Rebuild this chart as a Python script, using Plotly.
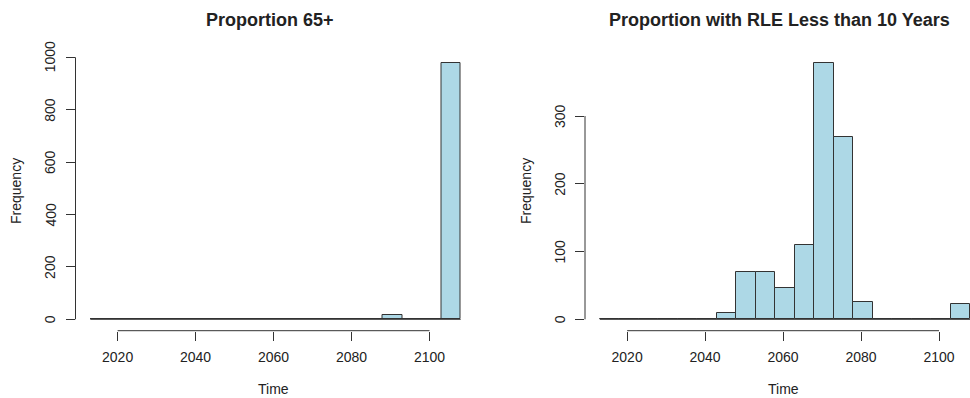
import plotly.graph_objects as go

# ---- data ----
breaks = [2013, 2018, 2023, 2028, 2033, 2038, 2043, 2048, 2053, 2058,
          2063, 2068, 2073, 2078, 2083, 2088, 2093, 2098, 2103, 2108]
counts_65 = [0, 0, 0, 0, 0, 0, 0, 0, 1, 1,
             0, 0, 0, 2, 3, 16, 0, 0, 977]
counts_rle = [0, 0, 0, 0, 0, 0, 9, 70, 70, 46,
              109, 378, 269, 25, 1, 1, 0, 0, 22]
x_ticks = [2020, 2040, 2060, 2080, 2100]
y_ticks_65 = [0, 200, 400, 600, 800, 1000]
y_ticks_rle = [0, 100, 200, 300]
titles = ["Proportion 65+", "Proportion with RLE Less than 10 Years"]

W, H = 970, 398
FONT = "Liberation Sans, Arial, sans-serif"
TXT = "#222222"
LINE = "#333333"
FILL = "#ADD8E6"


def px(p):
    return p / W


def py(p):
    return 1 - p / H


centers = [(breaks[i] + breaks[i + 1]) / 2 for i in range(len(breaks) - 1)]
widths = [breaks[i + 1] - breaks[i] for i in range(len(breaks) - 1)]

fig = go.Figure()
fig.add_trace(go.Bar(x=centers, y=counts_65, width=widths, xaxis="x", yaxis="y",
                     marker=dict(color=FILL, line=dict(color=LINE, width=1)),
                     showlegend=False))
fig.add_trace(go.Bar(x=centers, y=counts_rle, width=widths, xaxis="x2", yaxis="y2",
                     marker=dict(color=FILL, line=dict(color=LINE, width=1)),
                     showlegend=False))

ydom = [py(330.7), py(53)]
common_x = dict(showgrid=False, zeroline=False, showline=False, ticks="outside",
                ticklen=9, tickwidth=1, tickcolor=LINE, tickmode="array",
                tickvals=x_ticks, tickfont=dict(family=FONT, size=14, color=TXT),
                ticklabelstandoff=4, automargin=False)
common_y = dict(showgrid=False, zeroline=False, showline=False, ticks="outside",
                ticklen=9, tickwidth=1, tickcolor=LINE, tickmode="array",
                showticklabels=False, domain=ydom, automargin=False)

fig.update_layout(
    template="none",
    width=W, height=H,
    margin=dict(l=0, r=0, t=0, b=0, autoexpand=False),
    paper_bgcolor="white", plot_bgcolor="white",
    bargap=0,
    xaxis=dict(domain=[px(75.5), px(475.5)], range=[2009.2, 2111.8], anchor="y", **common_x),
    yaxis=dict(range=[-43.5, 1016.4], anchor="x", tickvals=y_ticks_65, **common_y),
    xaxis2=dict(domain=[px(585), 1.0], range=[2009.2, 2107.95], anchor="y2", **common_x),
    yaxis2=dict(range=[-16.8, 393.0], anchor="x2", tickvals=y_ticks_rle, **common_y),
)

shapes = []
anns = []
for xa, ya, yt, ttl, fx, lx in [("x", "y", y_ticks_65, titles[0], 16, 50),
                                ("x2", "y2", y_ticks_rle, titles[1], 526, 560)]:
    # baseline of zero-height bins
    shapes.append(dict(type="line", xref=xa, yref=ya, x0=breaks[0], x1=breaks[-1],
                       y0=0, y1=0, line=dict(color=LINE, width=1), layer="above"))
    # R-style axis lines spanning tick range
    shapes.append(dict(type="line", xref=xa, yref=ya + " domain", x0=x_ticks[0], x1=x_ticks[-1],
                       y0=0, y1=0, line=dict(color=LINE, width=1)))
    shapes.append(dict(type="line", xref=xa + " domain", yref=ya, x0=0, x1=0,
                       y0=yt[0], y1=yt[-1], line=dict(color=LINE, width=1)))
    for v in yt:
        anns.append(dict(text=str(v), xref="paper", yref=ya, x=px(lx), y=v,
                         showarrow=False, xanchor="center", yanchor="middle", textangle=-90,
                         font=dict(family=FONT, size=14, color=TXT)))
    anns.append(dict(text="<b>" + ttl + "</b>", xref=xa, yref="paper", x=2059.0, y=py(19.5),
                     showarrow=False, xanchor="center", yanchor="middle",
                     font=dict(family=FONT, size=18, color=TXT)))
    anns.append(dict(text="Time", xref=xa, yref="paper", x=2060.0, y=py(389),
                     showarrow=False, xanchor="center", yanchor="middle",
                     font=dict(family=FONT, size=14, color=TXT)))
    anns.append(dict(text="Frequency", xref="paper", yref="paper", x=px(fx), y=py(191),
                     showarrow=False, xanchor="center", yanchor="middle", textangle=-90,
                     font=dict(family=FONT, size=14, color=TXT)))

fig.update_layout(shapes=shapes, annotations=anns)
fig.write_html("out.html", config={"displayModeBar": False},
               post_script="document.body.style.margin='0';document.body.style.overflow='hidden';")
